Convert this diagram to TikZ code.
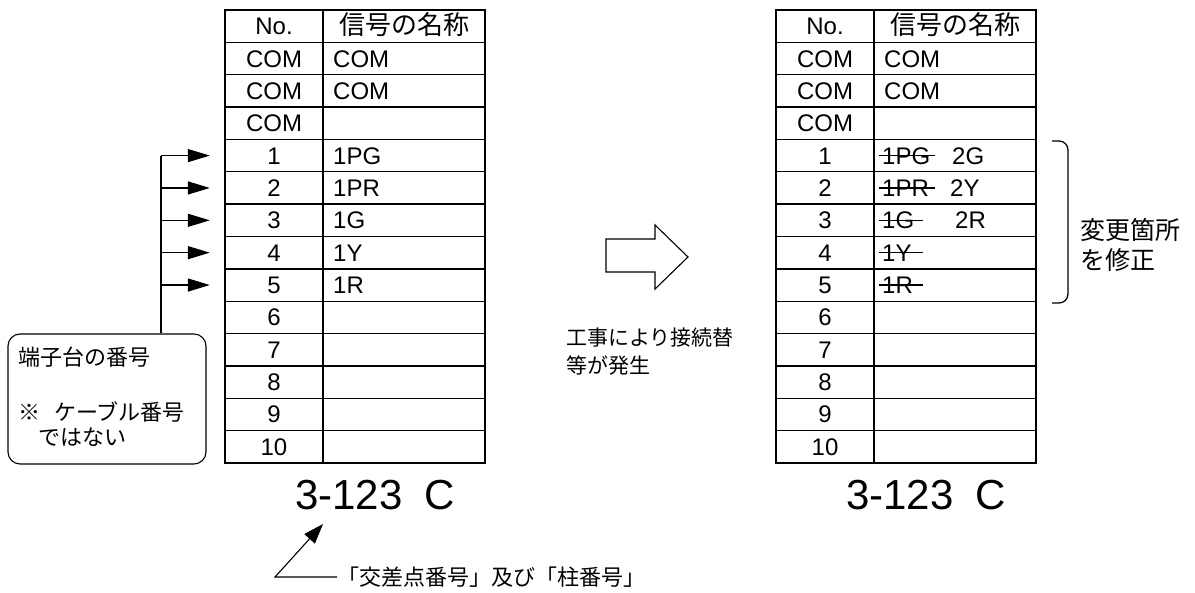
\documentclass[tikz,border=0pt]{standalone}
\usepackage{fontspec}
\setmainfont{Liberation Sans}
\newfontfamily\jp{Noto Sans CJK JP}
\usetikzlibrary{arrows.meta}

\begin{document}
\begin{tikzpicture}[x=1pt,y=-1pt,
    cell/.style={inner sep=0pt, text height=17pt, text depth=0pt, font=\fontsize{24}{24}\selectfont},
    nocell/.style={cell, minimum width=98pt},
    grid/.style={line width=1.3pt},
    frame/.style={line width=2.4pt},
    feed/.style={line width=1.3pt, -{Triangle[length=22pt,width=13pt]}},
    jtext/.style={inner sep=0pt, align=left, font=\jp\fontsize{21}{28}\selectfont}]
    \useasboundingbox (0,0) rectangle (1195,593);

    % Two terminal tables
    \foreach \tx/\tn in {225/L, 776/R} {
        \foreach \i in {1,...,13}
            \draw[grid] (\tx,{10+\i*32.357}) -- ++(260,0);
        \draw[grid] ({\tx+98},10) -- ({\tx+98},463);
        \draw[frame] (\tx,10) rectangle ++(260,453);
        \foreach \lab [count=\i from 0] in {No.,COM,COM,COM,1,2,3,4,5,6,7,8,9,10}
            \node[nocell] (\tn-no\i) at ({\tx+49},{10+(\i+0.5)*32.357}) {\lab};
        \node[cell, font=\jp\fontsize{26}{26}\selectfont] (\tn-name0) at ({\tx+179},{10+0.5*32.357}) {信号の名称};
        \foreach \i in {1,2}
            \node[cell, anchor=west] (\tn-name\i) at ({\tx+108},{10+(\i+0.5)*32.357}) {COM};
        % Number below the table
        \node[inner sep=0pt, anchor=base west, font=\fontsize{42}{42}\selectfont] (\tn-code) at ({\tx+70},510) {3-123\hspace{22pt}C};
    }

    % Signal names, left table
    \foreach \lab [count=\i from 4] in {1PG,1PR,1G,1Y,1R}
        \node[cell, anchor=west] (L-name\i) at (333,{10+(\i+0.5)*32.357}) {\lab};

    % Struck-out names and new names, right table
    \foreach \i/\old/\sx in {4/1PG/935, 5/1PR/935, 6/1G/923, 7/1Y/923, 8/1R/923} {
        \node[cell, anchor=west] (R-old\i) at (882,{10+(\i+0.5)*32.357}) {\old};
        \draw[line width=1.3pt] ([xshift=-3pt]R-old\i.west) -- ++({\sx-879},0);
    }
    \foreach \i/\new/\nx in {4/2G/952, 5/2Y/950, 6/2R/955}
        \node[cell, anchor=west] (R-new\i) at (\nx,{10+(\i+0.5)*32.357}) {\new};

    % Terminal number callout
    \node[draw, line width=1.1pt, rounded corners=12pt, minimum width=198pt, minimum height=130pt, inner sep=0pt] (termbox) at (107,399) {};
    \node[jtext, anchor=north west, font=\jp\fontsize{22}{25}\selectfont] (termtxt) at (18,347) {端子台の番号\\[30pt]※\hspace{14pt}ケーブル番号\\\hspace*{20pt}ではない};
    \foreach \i in {4,...,8} {
        \coordinate (bus\i) at (161,{10+(\i+0.5)*32.357});
        \draw[feed] (bus\i) -- ([xshift=-15pt]L-no\i.west);
    }
    \draw[line width=1.3pt] (bus4) -- (bus4 |- termbox.north);

    % Block arrow and note in the middle
    \draw[line width=1.1pt, line join=miter] (606,239) -- (655,239) -- (655,225) -- (688,257) -- (655,289) -- (655,272) -- (606,272) -- cycle;
    \node[jtext, anchor=west] (change) at (566,352) {工事により接続替\\等が発生};

    % Bracket for the changed rows
    \draw[line width=1.3pt, rounded corners=9pt] (1052,141) -- (1068,141) -- (1068,303) -- (1052,303);
    \node[jtext, anchor=west, font=\jp\fontsize{25}{30}\selectfont] (fixnote) at (1080,245) {変更箇所\\を修正};

    % Pointer to the number below
    \node[jtext, anchor=west, font=\jp\fontsize{22}{22}\selectfont] (kousa) at (337,577) {「交差点番号」及び「柱番号」};
    \coordinate (bend) at (275,577);
    \coordinate (codetip) at (323,524);
    \draw[line width=1.1pt, -{Triangle[length=20pt,width=14pt]}] (kousa.west) -- (bend) -- (codetip);
\end{tikzpicture}
\end{document}
